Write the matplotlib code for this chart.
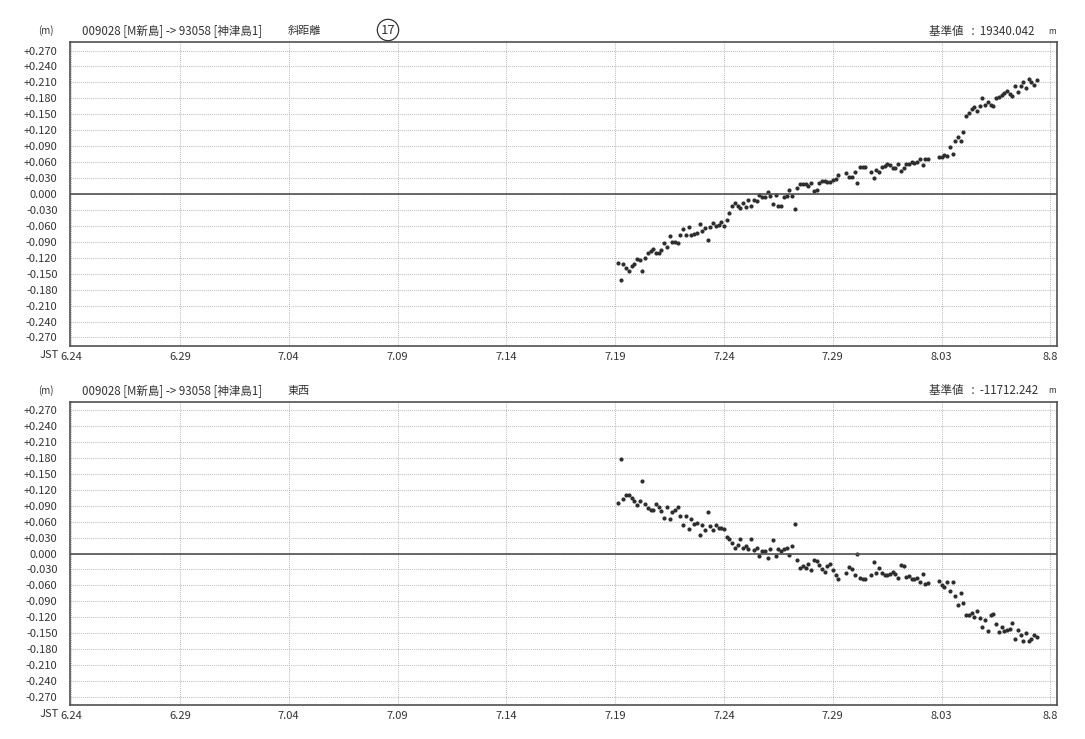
import numpy as np
import matplotlib
matplotlib.use("Agg")
import matplotlib.pyplot as plt
from matplotlib.ticker import FuncFormatter

plt.rcParams['font.family'] = ['Noto Sans CJK JP', 'DejaVu Sans']

# epochs: days since 6.24, one solution every 3 hours from 7.19 03:00
first_epoch = 25.125
step = 0.125
n_epochs = 155

# slope distance (m), None = no solution
slope = [
    -0.129, -0.161, -0.132, -0.140, -0.144, -0.136, -0.131, -0.122, -0.124, -0.145,
    -0.121, -0.111, -0.108, -0.103, -0.111, -0.111, -0.106, -0.092, -0.100, -0.079,
    -0.091, -0.091, -0.092, -0.078, -0.065, -0.077, -0.062, -0.077, -0.075, -0.073,
    -0.057, -0.069, -0.064, -0.086, -0.062, -0.054, -0.061, -0.058, -0.052, -0.061,
    -0.049, -0.036, -0.022, -0.016, -0.023, -0.026, -0.016, -0.024, -0.011, -0.022,
    -0.011, -0.014, -0.001, -0.006, -0.005, 0.003, -0.003, -0.018, -0.001, -0.022,
    -0.022, -0.006, -0.003, 0.008, -0.003, -0.029, 0.012, 0.018, 0.018, 0.019,
    0.015, 0.020, 0.006, 0.007, 0.020, 0.025, 0.024, 0.023, 0.023, 0.027,
    0.029, 0.036, None, None, 0.040, 0.032, 0.032, 0.041, 0.020, 0.051,
    0.051, 0.051, None, 0.041, 0.030, 0.045, 0.042, 0.051, 0.053, 0.057,
    0.054, 0.048, 0.048, 0.057, 0.044, 0.049, 0.056, 0.056, 0.060, 0.059,
    0.060, 0.066, 0.055, 0.066, 0.066, None, None, None, 0.070, 0.070,
    0.073, 0.071, 0.088, 0.075, 0.099, 0.107, 0.099, 0.117, 0.146, 0.152,
    0.159, 0.164, 0.156, 0.166, 0.180, 0.168, 0.174, 0.167, 0.165, 0.181,
    0.183, 0.186, 0.190, 0.193, 0.189, 0.185, 0.204, 0.191, 0.203, 0.210,
    0.200, 0.216, 0.210, 0.206, 0.214,
]

# east-west component (m)
east_west = [
    0.095, 0.178, 0.103, 0.111, 0.111, 0.104, 0.099, 0.091, 0.100, 0.136,
    0.093, 0.085, 0.083, 0.083, 0.093, 0.087, 0.080, 0.067, 0.087, 0.066,
    0.078, 0.082, 0.087, 0.071, 0.053, 0.070, 0.046, 0.065, 0.056, 0.057,
    0.034, 0.053, 0.044, 0.078, 0.051, 0.044, 0.053, 0.049, 0.048, 0.047,
    0.032, 0.028, 0.019, 0.010, 0.016, 0.028, 0.010, 0.015, 0.008, 0.027,
    0.006, 0.011, -0.004, 0.005, 0.005, -0.008, 0.009, 0.025, -0.004, 0.009,
    0.004, 0.008, 0.010, -0.003, 0.014, 0.056, -0.013, -0.027, -0.024, -0.027,
    -0.020, -0.031, -0.012, -0.014, -0.022, -0.029, -0.034, -0.024, -0.019, -0.031,
    -0.041, -0.049, None, None, -0.037, -0.025, -0.030, -0.040, -0.001, -0.046,
    -0.048, -0.048, None, -0.040, -0.016, -0.037, -0.028, -0.036, -0.040, -0.040,
    -0.039, -0.035, -0.038, -0.047, -0.022, -0.024, -0.044, -0.042, -0.049, -0.048,
    -0.046, -0.054, -0.039, -0.057, -0.055, None, None, None, -0.051, -0.059,
    -0.064, -0.053, -0.071, -0.053, -0.081, -0.098, -0.074, -0.094, -0.117, -0.116,
    -0.113, -0.120, -0.109, -0.121, -0.139, -0.126, -0.146, -0.116, -0.115, -0.133,
    -0.149, -0.139, -0.146, -0.144, -0.142, -0.131, -0.162, -0.144, -0.154, -0.166,
    -0.150, -0.166, -0.162, -0.154, -0.157,
]

date_labels = ['6.24', '6.29', '7.04', '7.09', '7.14', '7.19', '7.24', '7.29', '8.03', '8.8']
date_days = [0, 5, 10, 15, 20, 25, 30, 35, 40, 45]
y_ticks = [-0.27, -0.24, -0.21, -0.18, -0.15, -0.12, -0.09, -0.06, -0.03, 0.0,
           0.03, 0.06, 0.09, 0.12, 0.15, 0.18, 0.21, 0.24, 0.27]

route = '009028 [M新島] -> 93058 [神津島1]'
panels = [('斜距離', ':  19340.042', slope), ('東西', ':  -11712.242', east_west)]

W, H = 1085, 739
fig = plt.figure(figsize=(W / 100, H / 100), dpi=100)
ink = '#333333'

epochs = first_epoch + step * np.arange(n_epochs)


def fmt(v, pos):
    if abs(v) < 1e-9:
        return '0.000'
    return f'{v:+.3f}'


# (top px, bottom px) of each panel
boxes = [(42, 346), (402, 705)]
for (name, base, vals), (top, bot) in zip(panels, boxes):
    ax = fig.add_axes([70 / W, 1 - bot / H, 987 / W, (bot - top) / H])
    y = np.array([np.nan if v is None else v for v in vals])
    ax.plot(epochs, y, 'o', ms=3.0, color='#2e2e2e', mec='none')
    ax.axhline(0, color='#505050', lw=1.2)
    ax.set_xlim(-0.05, 45.3)
    ax.set_ylim(-0.286, 0.286)
    ax.set_yticks(y_ticks)
    ax.yaxis.set_major_formatter(FuncFormatter(fmt))
    ax.set_xticks(date_days)
    ax.set_xticklabels(date_labels)
    ax.grid(True, ls=(0, (1, 1.5)), lw=0.6, color='#a0a0a0')
    ax.tick_params(axis='y', length=0, labelsize=8, colors=ink, pad=9)
    ax.tick_params(axis='x', length=0, labelsize=8, colors=ink, pad=4)
    for s in ax.spines.values():
        s.set_color('#505050')
        s.set_linewidth(1.2)

    # header line
    yh = 1 - (top - 11) / H
    fig.text(38 / W, yh, '(m)', fontsize=7, color=ink, va='center')
    fig.text(82 / W, yh, route, fontsize=8.3, color=ink, va='center')
    fig.text(288 / W, yh, name, fontsize=8, color=ink, va='center')
    fig.text(929 / W, yh, '基準値   ' + base, fontsize=8.3, color=ink, va='center')
    fig.text(1048 / W, yh, 'm', fontsize=6, color=ink, va='center')
    # JST marker next to first date label, on the same baseline
    fig.text(59 / W, 1 - (bot + 4) / H, 'JST', fontsize=8, color=ink,
             ha='right', va='top')

fig.text(388 / W, 1 - 30 / H, '17', fontsize=9.5, color=ink, ha='center', va='center',
         bbox=dict(boxstyle='circle,pad=0.25', fc='none', ec=ink, lw=0.9))

fig.savefig('out.png', dpi=100)
